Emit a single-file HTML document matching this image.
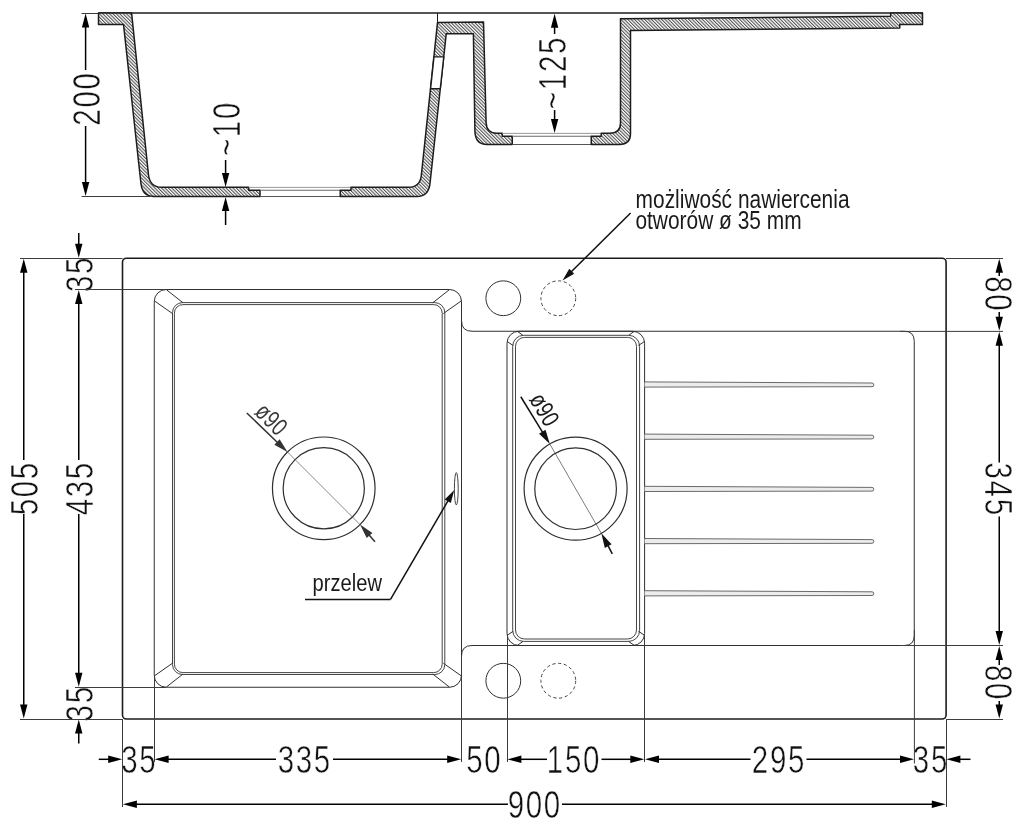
<!DOCTYPE html>
<html lang="pl"><head><meta charset="utf-8"><title>Zlewozmywak - rysunek techniczny</title>
<style>
html,body{margin:0;padding:0;background:#fff;}
body{width:1024px;height:828px;overflow:hidden;}
svg{display:block;font-family:"Liberation Sans",sans-serif;}
svg{will-change:transform;filter:grayscale(1);}
</style></head><body>
<svg width="1024" height="828" viewBox="0 0 1024 828">
<defs>
<pattern id="hatch" patternUnits="userSpaceOnUse" width="2.4" height="2.4" patternTransform="rotate(-45)">
<rect width="2.4" height="2.4" fill="#fff"/>
<line x1="0.6" y1="0" x2="0.6" y2="2.4" stroke="#222" stroke-width="0.85"/>
</pattern>
</defs>
<rect width="1024" height="828" fill="#fff"/>

<g id="dimtexts">
<text transform="translate(85.6,98.5) rotate(-90) scale(0.755,1)" x="0" y="13.96" text-anchor="middle" font-size="39" letter-spacing="2.3" fill="#111" stroke="#fff" stroke-width="0.55">200</text>
<text transform="translate(225.6,128.5) rotate(-90) scale(0.755,1)" x="0" y="13.96" text-anchor="middle" font-size="39" letter-spacing="2.3" fill="#111" stroke="#fff" stroke-width="0.55">~10</text>
<text transform="translate(552.3,72.5) rotate(-90) scale(0.755,1)" x="0" y="13.96" text-anchor="middle" font-size="39" letter-spacing="2.3" fill="#111" stroke="#fff" stroke-width="0.55">~125</text>
<text transform="translate(23.75,488.2) rotate(-90) scale(0.755,1)" x="0" y="13.96" text-anchor="middle" font-size="39" letter-spacing="2.3" fill="#111" stroke="#fff" stroke-width="0.55">505</text>
<text transform="translate(78.75,488.2) rotate(-90) scale(0.755,1)" x="0" y="13.96" text-anchor="middle" font-size="39" letter-spacing="2.3" fill="#111" stroke="#fff" stroke-width="0.55">435</text>
<text transform="translate(79,274) rotate(-90) scale(0.755,1)" x="0" y="13.96" text-anchor="middle" font-size="39" letter-spacing="2.3" fill="#111" stroke="#fff" stroke-width="0.55">35</text>
<text transform="translate(79,703.3) rotate(-90) scale(0.755,1)" x="0" y="13.96" text-anchor="middle" font-size="39" letter-spacing="2.3" fill="#111" stroke="#fff" stroke-width="0.55">35</text>
<text transform="translate(999.25,294.3) rotate(90) scale(0.755,1)" x="0" y="13.96" text-anchor="middle" font-size="39" letter-spacing="2.3" fill="#111" stroke="#fff" stroke-width="0.55">80</text>
<text transform="translate(999.25,489.6) rotate(90) scale(0.755,1)" x="0" y="13.96" text-anchor="middle" font-size="39" letter-spacing="2.3" fill="#111" stroke="#fff" stroke-width="0.55">345</text>
<text transform="translate(999.25,683) rotate(90) scale(0.755,1)" x="0" y="13.96" text-anchor="middle" font-size="39" letter-spacing="2.3" fill="#111" stroke="#fff" stroke-width="0.55">80</text>
<text transform="translate(139.3,759.3) rotate(0) scale(0.755,1)" x="0" y="13.96" text-anchor="middle" font-size="39" letter-spacing="2.3" fill="#111" stroke="#fff" stroke-width="0.55">35</text>
<text transform="translate(304.8,759.3) rotate(0) scale(0.755,1)" x="0" y="13.96" text-anchor="middle" font-size="39" letter-spacing="2.3" fill="#111" stroke="#fff" stroke-width="0.55">335</text>
<text transform="translate(484.3,759.3) rotate(0) scale(0.755,1)" x="0" y="13.96" text-anchor="middle" font-size="39" letter-spacing="2.3" fill="#111" stroke="#fff" stroke-width="0.55">50</text>
<text transform="translate(574,759.3) rotate(0) scale(0.755,1)" x="0" y="13.96" text-anchor="middle" font-size="39" letter-spacing="2.3" fill="#111" stroke="#fff" stroke-width="0.55">150</text>
<text transform="translate(779,759.3) rotate(0) scale(0.755,1)" x="0" y="13.96" text-anchor="middle" font-size="39" letter-spacing="2.3" fill="#111" stroke="#fff" stroke-width="0.55">295</text>
<text transform="translate(930.9,759.3) rotate(0) scale(0.755,1)" x="0" y="13.96" text-anchor="middle" font-size="39" letter-spacing="2.3" fill="#111" stroke="#fff" stroke-width="0.55">35</text>
<text transform="translate(534.8,804.3) rotate(0) scale(0.755,1)" x="0" y="13.96" text-anchor="middle" font-size="39" letter-spacing="2.3" fill="#111" stroke="#fff" stroke-width="0.55">900</text>
</g>
<g id="section" fill="none" stroke-linejoin="round">
<line x1="81.6" y1="13.5" x2="101" y2="13.5" stroke="#3c3c3c" stroke-width="1" />
<line x1="98.5" y1="13.1" x2="923" y2="13.1" stroke="#1c1c1c" stroke-width="1.5" />
<line x1="700" y1="15.0" x2="889" y2="15.0" stroke="#cfcfcf" stroke-width="0.8" />
<path d="M98.5,13.1 L131.6,13.1 L148.4,174 Q149.6,187.25 161.5,187.25 L248.75,187.25 L248.75,190.25 L260,190.25 L260,196.5 L154,196.5 Q142.2,196.5 140.9,183 L123.5,24.4 L98.5,24.4 Z" fill="url(#hatch)" stroke="#1c1c1c" stroke-width="1.5"/>
<line x1="248.75" y1="187.4" x2="351" y2="187.4" stroke="#9a9a9a" stroke-width="1.0" />
<line x1="260" y1="190.25" x2="340.25" y2="190.25" stroke="#6a6a6a" stroke-width="1.0" />
<line x1="260" y1="196.5" x2="340.25" y2="196.5" stroke="#555" stroke-width="1.0" />
<path d="M437.5,22.6 L421.3,175.5 Q420,187.25 408.5,187.25 L351,187.25 L351,190.25 L340.25,190.25 L340.25,196.5 L417,196.5 Q428.6,196.5 430,183.5 L446.25,33.75 L473.4,33.75 L474.9,131 Q475.2,144.5 487,144.5 L512.25,144.5 L512.25,136.25 L502.25,136.25 L502.25,133.25 L497,133.25 Q486.4,133.25 486.1,122.5 L483.5,22 Z" fill="url(#hatch)" stroke="#1c1c1c" stroke-width="1.5"/>
<path d="M434,56.9 L443.75,56.9 L440.25,88.75 L430.6,88.75 Z" fill="#fff" stroke="#1c1c1c" stroke-width="1.4"/>
<line x1="437.5" y1="13.1" x2="437.5" y2="22.6" stroke="#1c1c1c" stroke-width="1.0" />
<line x1="502.25" y1="133.4" x2="601.25" y2="133.4" stroke="#9a9a9a" stroke-width="1.0" />
<line x1="512.25" y1="136.25" x2="591.25" y2="136.25" stroke="#6a6a6a" stroke-width="1.0" />
<line x1="512.25" y1="144.5" x2="591.25" y2="144.5" stroke="#555" stroke-width="1.0" />
<path d="M620.5,18.75 L620.5,123 Q620.5,133.25 609.5,133.25 L601.25,133.25 L601.25,136.25 L591.25,136.25 L591.25,144.5 L619.5,144.5 Q630.5,144.5 630.5,133.5 L630.5,30.5 L899.75,28.0 L899.75,24.4 L922.5,24.4 L922.5,13.1 L890.6,13.1 L890.6,16.25 Z" fill="url(#hatch)" stroke="#1c1c1c" stroke-width="1.5"/>
</g>
<g id="secdims">
<line x1="81.6" y1="196.5" x2="152" y2="196.5" stroke="#3c3c3c" stroke-width="1" />
<line x1="85.60" y1="70.00" x2="85.60" y2="26.60" stroke="#000" stroke-width="1.5" />
<polygon points="85.60,13.60 89.30,27.60 81.90,27.60" fill="#000"/>
<line x1="85.60" y1="126.00" x2="85.60" y2="183.00" stroke="#000" stroke-width="1.5" />
<polygon points="85.60,196.00 81.90,182.00 89.30,182.00" fill="#000"/>
<line x1="225.60" y1="160.00" x2="225.60" y2="174.00" stroke="#000" stroke-width="1.5" />
<polygon points="225.60,187.00 221.90,173.00 229.30,173.00" fill="#000"/>
<line x1="225.60" y1="225.00" x2="225.60" y2="210.00" stroke="#000" stroke-width="1.5" />
<polygon points="225.60,197.00 229.30,211.00 221.90,211.00" fill="#000"/>
<line x1="554.60" y1="34.00" x2="554.60" y2="26.80" stroke="#000" stroke-width="1.5" />
<polygon points="554.60,13.80 558.30,27.80 550.90,27.80" fill="#000"/>
<line x1="554.60" y1="110.00" x2="554.60" y2="120.00" stroke="#000" stroke-width="1.5" />
<polygon points="554.60,133.00 550.90,119.00 558.30,119.00" fill="#000"/>
</g>
<g id="plan" fill="none" stroke="#303030" stroke-width="1">
<rect x="122.5" y="258.25" width="823.6" height="460.75" rx="4" ry="4" stroke="#1c1c1c" stroke-width="1.6"/>
<rect x="154.25" y="289.5" width="307.25" height="397.75" rx="12" ry="12"/>
<rect x="172.5" y="302.6" width="272.3" height="371.9" rx="10" ry="10" stroke-width="0.9"/>
<rect x="174.4" y="304.6" width="267.8" height="368.0" rx="8.5" ry="8.5" stroke-width="0.9"/>
<line x1="154.25" y1="300.75" x2="172.40" y2="313.50" stroke="#303030" stroke-width="1.0" />
<line x1="166.25" y1="289.60" x2="183.00" y2="302.75" stroke="#303030" stroke-width="1.0" />
<line x1="461.50" y1="300.75" x2="443.35" y2="313.50" stroke="#303030" stroke-width="1.0" />
<line x1="449.50" y1="289.60" x2="432.75" y2="302.75" stroke="#303030" stroke-width="1.0" />
<line x1="154.25" y1="676.00" x2="172.40" y2="663.25" stroke="#303030" stroke-width="1.0" />
<line x1="166.25" y1="687.15" x2="183.00" y2="674.00" stroke="#303030" stroke-width="1.0" />
<line x1="461.50" y1="676.00" x2="443.35" y2="663.25" stroke="#303030" stroke-width="1.0" />
<line x1="449.50" y1="687.15" x2="432.75" y2="674.00" stroke="#303030" stroke-width="1.0" />
<path d="M461.5,320.75 Q461.5,331.25 472,331.25 L904.25,331.25 Q914.25,331.25 914.25,341.25 L914.25,635.5 Q914.25,645.5 904.25,645.5 L472,645.5 Q461.5,645.5 461.5,656"/>
<rect x="507" y="331.25" width="137.6" height="314.25" rx="12" ry="12"/>
<rect x="512.7" y="335.3" width="126.9" height="306.1" rx="11" ry="11" stroke-width="0.9"/>
<rect x="515.5" y="337.4" width="121" height="301.6" rx="9" ry="9" stroke-width="0.9"/>
<line x1="507.10" y1="341.50" x2="513.20" y2="345.50" stroke="#303030" stroke-width="1.0" />
<line x1="517.50" y1="331.40" x2="523.00" y2="335.40" stroke="#303030" stroke-width="1.0" />
<line x1="644.50" y1="341.50" x2="638.40" y2="345.50" stroke="#303030" stroke-width="1.0" />
<line x1="634.10" y1="331.40" x2="628.60" y2="335.40" stroke="#303030" stroke-width="1.0" />
<line x1="507.10" y1="635.25" x2="513.20" y2="631.25" stroke="#303030" stroke-width="1.0" />
<line x1="517.50" y1="645.35" x2="523.00" y2="641.35" stroke="#303030" stroke-width="1.0" />
<line x1="644.50" y1="635.25" x2="638.40" y2="631.25" stroke="#303030" stroke-width="1.0" />
<line x1="634.10" y1="645.35" x2="628.60" y2="641.35" stroke="#303030" stroke-width="1.0" />
<path d="M644.6,381.90 L872,383.00 Q873.8,383.00 873.8,384.90 Q873.8,386.70 872,386.70 L644.6,387.10" stroke="#5a5a5a" stroke-width="0.9" fill="#ececec"/>
<path d="M644.6,434.10 L872,435.20 Q873.8,435.20 873.8,437.10 Q873.8,438.90 872,438.90 L644.6,439.30" stroke="#5a5a5a" stroke-width="0.9" fill="#ececec"/>
<path d="M644.6,486.30 L872,487.40 Q873.8,487.40 873.8,489.30 Q873.8,491.10 872,491.10 L644.6,491.50" stroke="#5a5a5a" stroke-width="0.9" fill="#ececec"/>
<path d="M644.6,538.50 L872,539.60 Q873.8,539.60 873.8,541.50 Q873.8,543.30 872,543.30 L644.6,543.70" stroke="#5a5a5a" stroke-width="0.9" fill="#ececec"/>
<path d="M644.6,590.70 L872,591.80 Q873.8,591.80 873.8,593.70 Q873.8,595.50 872,595.50 L644.6,595.90" stroke="#5a5a5a" stroke-width="0.9" fill="#ececec"/>
<circle cx="503.3" cy="298.25" r="17.4"/>
<circle cx="503.3" cy="680.75" r="17.4"/>
<circle cx="558.3" cy="298.25" r="17.4" stroke-dasharray="3.2 2.6" stroke="#444"/>
<circle cx="558.3" cy="680.75" r="17.4" stroke-dasharray="3.2 2.6" stroke="#444"/>
<circle cx="323.75" cy="488.3" r="51.3" stroke="#2e2e2e" stroke-width="1.2"/>
<circle cx="323.75" cy="488.3" r="40.6" stroke="#2e2e2e" stroke-width="1.2"/>
<circle cx="575.6" cy="488.7" r="51.5" stroke="#2e2e2e" stroke-width="1.2"/>
<circle cx="575.6" cy="488.7" r="40.8" stroke="#2e2e2e" stroke-width="1.2"/>
<ellipse cx="456.3" cy="488.75" rx="1.9" ry="16.2" stroke="#444"/>
</g>
<g id="dia">
<line x1="287.48" y1="452.03" x2="360.02" y2="524.57" stroke="#555" stroke-width="0.7" />
<line x1="246.80" y1="413.00" x2="277.73" y2="442.68" stroke="#333" stroke-width="1.5" />
<polygon points="287.48,452.03 274.38,444.73 279.64,439.24" fill="#333"/>
<line x1="375.00" y1="541.80" x2="368.88" y2="534.76" stroke="#333" stroke-width="1.5" />
<polygon points="360.02,524.57 372.41,533.02 366.67,538.01" fill="#333"/>
<text transform="translate(265.6,425.2) rotate(45) scale(0.76,1)" text-anchor="middle" font-size="25" letter-spacing="0.6" fill="#3a3a3a">ø90</text>
<line x1="549.85" y1="444.10" x2="601.35" y2="533.30" stroke="#444" stroke-width="0.7" />
<line x1="520.80" y1="396.75" x2="542.79" y2="432.59" stroke="#111" stroke-width="1.5" />
<polygon points="549.85,444.10 539.03,433.73 545.51,429.75" fill="#111"/>
<line x1="612.30" y1="553.80" x2="607.71" y2="545.21" stroke="#111" stroke-width="1.5" />
<polygon points="601.35,533.30 611.53,544.30 604.83,547.88" fill="#111"/>
<text transform="translate(537.2,413.9) rotate(60) scale(0.76,1)" text-anchor="middle" font-size="25" letter-spacing="0.6" fill="#1a1a1a">ø90</text>
</g>
<g id="labels" fill="#1a1a1a">
<text transform="translate(635.6,207.7) scale(0.837,1)" font-size="25">możliwość nawiercenia</text>
<text transform="translate(635.4,228.8) scale(0.837,1)" font-size="25">otworów ø 35 mm</text>
<text transform="translate(312.5,590.6) scale(0.84,1)" font-size="24">przelew</text>
</g>
<line x1="630.60" y1="213.00" x2="571.02" y2="272.05" stroke="#111" stroke-width="1.5" />
<polygon points="562.50,280.50 569.27,268.86 574.20,273.83" fill="#111"/>
<polyline points="305,599.4 390.5,599.4" fill="none" stroke="#111" stroke-width="1.5"/>
<line x1="390.50" y1="599.40" x2="448.25" y2="500.37" stroke="#111" stroke-width="1.5" />
<polygon points="454.30,490.00 450.77,502.99 444.73,499.47" fill="#111"/>
<g id="plandims">
<line x1="20" y1="258.5" x2="122.5" y2="258.5" stroke="#3c3c3c" stroke-width="1" />
<line x1="20" y1="719.5" x2="122.5" y2="719.5" stroke="#3c3c3c" stroke-width="1" />
<line x1="75" y1="289.5" x2="166" y2="289.5" stroke="#3c3c3c" stroke-width="1" />
<line x1="75" y1="687.5" x2="166" y2="687.5" stroke="#3c3c3c" stroke-width="1" />
<line x1="23.75" y1="460.00" x2="23.75" y2="271.80" stroke="#000" stroke-width="1.5" />
<polygon points="23.75,258.80 27.45,272.80 20.05,272.80" fill="#000"/>
<line x1="23.75" y1="514.00" x2="23.75" y2="705.50" stroke="#000" stroke-width="1.5" />
<polygon points="23.75,718.50 20.05,704.50 27.45,704.50" fill="#000"/>
<line x1="78.75" y1="460.00" x2="78.75" y2="303.00" stroke="#000" stroke-width="1.5" />
<polygon points="78.75,290.00 82.45,304.00 75.05,304.00" fill="#000"/>
<line x1="78.75" y1="514.00" x2="78.75" y2="673.80" stroke="#000" stroke-width="1.5" />
<polygon points="78.75,686.80 75.05,672.80 82.45,672.80" fill="#000"/>
<line x1="78.75" y1="233.00" x2="78.75" y2="244.80" stroke="#000" stroke-width="1.5" />
<polygon points="78.75,257.80 75.05,243.80 82.45,243.80" fill="#000"/>
<line x1="78.75" y1="743.50" x2="78.75" y2="732.50" stroke="#000" stroke-width="1.5" />
<polygon points="78.75,719.50 82.45,733.50 75.05,733.50" fill="#000"/>
<line x1="946" y1="258.5" x2="1003" y2="258.5" stroke="#3c3c3c" stroke-width="1" />
<line x1="900" y1="331.4" x2="1003" y2="331.4" stroke="#3c3c3c" stroke-width="1" />
<line x1="900" y1="645.5" x2="1003" y2="645.5" stroke="#3c3c3c" stroke-width="1" />
<line x1="946" y1="719.5" x2="1003" y2="719.5" stroke="#3c3c3c" stroke-width="1" />
<line x1="999.25" y1="276.00" x2="999.25" y2="271.80" stroke="#000" stroke-width="1.5" />
<polygon points="999.25,258.80 1002.95,272.80 995.55,272.80" fill="#000"/>
<line x1="999.25" y1="312.00" x2="999.25" y2="317.80" stroke="#000" stroke-width="1.5" />
<polygon points="999.25,330.80 995.55,316.80 1002.95,316.80" fill="#000"/>
<line x1="999.25" y1="462.50" x2="999.25" y2="344.80" stroke="#000" stroke-width="1.5" />
<polygon points="999.25,331.80 1002.95,345.80 995.55,345.80" fill="#000"/>
<line x1="999.25" y1="516.50" x2="999.25" y2="632.00" stroke="#000" stroke-width="1.5" />
<polygon points="999.25,645.00 995.55,631.00 1002.95,631.00" fill="#000"/>
<line x1="999.25" y1="665.00" x2="999.25" y2="659.00" stroke="#000" stroke-width="1.5" />
<polygon points="999.25,646.00 1002.95,660.00 995.55,660.00" fill="#000"/>
<line x1="999.25" y1="701.00" x2="999.25" y2="705.50" stroke="#000" stroke-width="1.5" />
<polygon points="999.25,718.50 995.55,704.50 1002.95,704.50" fill="#000"/>
<line x1="122.5" y1="719" x2="122.5" y2="807" stroke="#3c3c3c" stroke-width="1" />
<line x1="946.5" y1="719" x2="946.5" y2="807" stroke="#3c3c3c" stroke-width="1" />
<line x1="154.5" y1="675" x2="154.5" y2="762" stroke="#3c3c3c" stroke-width="1" />
<line x1="461.5" y1="656" x2="461.5" y2="762" stroke="#3c3c3c" stroke-width="1" />
<line x1="507.5" y1="634" x2="507.5" y2="762" stroke="#3c3c3c" stroke-width="1" />
<line x1="644.5" y1="634" x2="644.5" y2="762" stroke="#3c3c3c" stroke-width="1" />
<line x1="914.4" y1="630" x2="914.4" y2="763.5" stroke="#3c3c3c" stroke-width="1" />
<line x1="98.75" y1="759.30" x2="109.20" y2="759.30" stroke="#000" stroke-width="1.5" />
<polygon points="122.20,759.30 108.20,763.00 108.20,755.60" fill="#000"/>
<line x1="276.00" y1="759.30" x2="167.60" y2="759.30" stroke="#000" stroke-width="1.5" />
<polygon points="154.60,759.30 168.60,755.60 168.60,763.00" fill="#000"/>
<line x1="333.00" y1="759.30" x2="448.20" y2="759.30" stroke="#000" stroke-width="1.5" />
<polygon points="461.20,759.30 447.20,763.00 447.20,755.60" fill="#000"/>
<line x1="547.00" y1="759.30" x2="520.40" y2="759.30" stroke="#000" stroke-width="1.5" />
<polygon points="507.40,759.30 521.40,755.60 521.40,763.00" fill="#000"/>
<line x1="601.50" y1="759.30" x2="631.30" y2="759.30" stroke="#000" stroke-width="1.5" />
<polygon points="644.30,759.30 630.30,763.00 630.30,755.60" fill="#000"/>
<line x1="750.50" y1="759.30" x2="658.00" y2="759.30" stroke="#000" stroke-width="1.5" />
<polygon points="645.00,759.30 659.00,755.60 659.00,763.00" fill="#000"/>
<line x1="806.50" y1="759.30" x2="901.00" y2="759.30" stroke="#000" stroke-width="1.5" />
<polygon points="914.00,759.30 900.00,763.00 900.00,755.60" fill="#000"/>
<line x1="970.50" y1="759.30" x2="959.40" y2="759.30" stroke="#000" stroke-width="1.5" />
<polygon points="946.40,759.30 960.40,755.60 960.40,763.00" fill="#000"/>
<line x1="508.00" y1="804.30" x2="135.90" y2="804.30" stroke="#000" stroke-width="1.5" />
<polygon points="122.90,804.30 136.90,800.60 136.90,808.00" fill="#000"/>
<line x1="562.00" y1="804.30" x2="932.80" y2="804.30" stroke="#000" stroke-width="1.5" />
<polygon points="945.80,804.30 931.80,808.00 931.80,800.60" fill="#000"/>
</g>
</svg>
</body></html>
